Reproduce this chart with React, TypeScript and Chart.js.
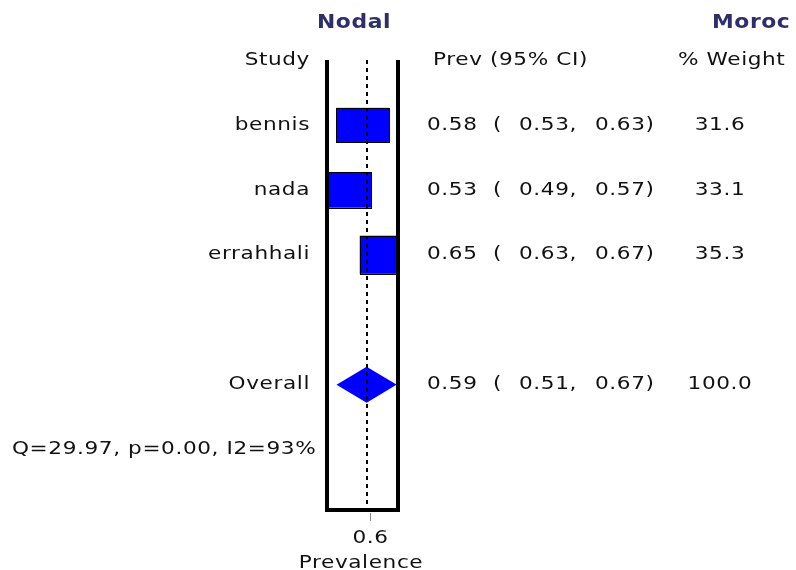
import React, { useEffect, useRef } from "react";
import { Chart, registerables } from "chart.js";

Chart.register(...registerables);

// ---------- data ----------
const studies = ["bennis", "nada", "errahhali"];
const studyRows = [1, 2, 3];
const prevalence = [0.58, 0.53, 0.65];
const ciLower = [0.53, 0.49, 0.63];
const ciUpper = [0.63, 0.57, 0.67];
const weights = [31.6, 33.1, 35.3];

const overallLabel = "Overall";
const overallRow = 5;
const overallEst = 0.59;
const overallLower = 0.51;
const overallUpper = 0.67;
const overallWeight = 100.0;

const heterogeneityText = "Q=29.97, p=0.00, I2=93%";
const heterogeneityRow = 6;

const xTicks = [0.6];
const xTitle = "Prevalence";
const titleLeft = "Nodal";
const titleRight = "Moroc";
const headerStudy = "Study";
const headerPrev = "Prev (95% CI)";
const headerWeight = "% Weight";

// ---------- layout / style ----------
const W = 796;
const H = 570;
const FONT = "'DejaVu Sans', sans-serif";
const TEXT_COLOR = "#111111";
const TITLE_COLOR = "#2e2e6a";
const BOX_COLOR = "#0000ff";
const STRETCH = 1.2;

const fmt = (v: number) => v.toFixed(2);

function drawText(ctx: CanvasRenderingContext2D, text: string, x: number, y: number, align: CanvasTextAlign, stretch = STRETCH) {
  ctx.save();
  ctx.translate(x, y);
  ctx.scale(stretch, 1);
  ctx.textAlign = align;
  ctx.fillText(text, 0, 0);
  ctx.restore();
}

const forestPlugin = {
  id: "forest",
  afterDatasetsDraw(chart: any) {
    const { ctx, chartArea } = chart;
    const xs = chart.scales.x;
    const ys = chart.scales.y;
    const { left, right, top, bottom } = chartArea;

    // ---- marks (clipped) ----
    ctx.save();
    ctx.beginPath();
    ctx.rect(left, top - 40, right - left, bottom - top + 40);
    ctx.clip();

    for (let i = 0; i < studies.length; i++) {
      const y = ys.getPixelForValue(studyRows[i]);
      ctx.strokeStyle = "#000";
      ctx.lineWidth = 1;
      ctx.beginPath();
      ctx.moveTo(xs.getPixelForValue(ciLower[i]), y);
      ctx.lineTo(xs.getPixelForValue(ciUpper[i]), y);
      ctx.stroke();

      const cx = xs.getPixelForValue(prevalence[i]);
      const bw = weights[i] * 1.67;
      const bh = weights[i] * 1.08;
      ctx.fillStyle = BOX_COLOR;
      ctx.fillRect(cx - bw / 2, y - bh / 2, bw, bh);
      ctx.strokeStyle = "#000";
      ctx.lineWidth = 1;
      ctx.strokeRect(Math.round(cx - bw / 2) + 0.5, Math.round(y - bh / 2) + 0.5, Math.round(bw), Math.round(bh));
    }

    // diamond
    const oy = ys.getPixelForValue(overallRow);
    const dh = 18;
    ctx.fillStyle = BOX_COLOR;
    ctx.beginPath();
    ctx.moveTo(xs.getPixelForValue(overallLower), oy);
    ctx.lineTo(xs.getPixelForValue(overallEst), oy - dh);
    ctx.lineTo(xs.getPixelForValue(overallUpper), oy);
    ctx.lineTo(xs.getPixelForValue(overallEst), oy + dh);
    ctx.closePath();
    ctx.fill();
    ctx.restore();

    // ---- dashed reference line at overall estimate ----
    const ox = Math.round(xs.getPixelForValue(overallEst));
    ctx.save();
    ctx.strokeStyle = "#000";
    ctx.lineWidth = 2;
    ctx.setLineDash([4, 4]);
    ctx.beginPath();
    ctx.moveTo(ox, top);
    ctx.lineTo(ox, bottom);
    ctx.stroke();
    ctx.restore();

    // ---- frame ----
    ctx.save();
    ctx.fillStyle = "#000";
    ctx.fillRect(left - 4, top, 4, bottom - top + 4);
    ctx.fillRect(right, top, 4, bottom - top + 4);
    ctx.fillRect(left - 4, bottom, right - left + 8, 4);
    ctx.restore();

    // ---- x ticks ----
    ctx.save();
    ctx.strokeStyle = "#888";
    ctx.lineWidth = 1;
    ctx.fillStyle = TEXT_COLOR;
    ctx.font = `18px ${FONT}`;
    (ctx as any).letterSpacing = "0.5px";
    ctx.textBaseline = "middle";
    for (const t of xTicks) {
      const tx = Math.round(xs.getPixelForValue(t)) + 0.5;
      ctx.beginPath();
      ctx.moveTo(tx, bottom + 5);
      ctx.lineTo(tx, bottom + 13);
      ctx.stroke();
      drawText(ctx, String(t), tx, bottom + 30, "center");
    }
    drawText(ctx, xTitle, 361, bottom + 55, "center");
    ctx.restore();

    // ---- texts ----
    ctx.save();
    ctx.fillStyle = TEXT_COLOR;
    ctx.font = `18px ${FONT}`;
    (ctx as any).letterSpacing = "0.5px";
    ctx.textBaseline = "middle";

    const labelRight = 310;
    const colEst = 427;
    const colParen = 493;
    const colLo = 519;
    const colHi = 595;
    const colWeightCenter = 720;

    const y0 = ys.getPixelForValue(0);
    drawText(ctx, headerStudy, labelRight, y0, "right");
    drawText(ctx, headerPrev, 433, y0, "left");
    drawText(ctx, headerWeight, 678, y0, "left");

    const row = (label: string, r: number, est: number, lo: number, hi: number, w: number) => {
      const y = ys.getPixelForValue(r);
      drawText(ctx, label, labelRight, y, "right");
      drawText(ctx, fmt(est), colEst, y, "left");
      drawText(ctx, "(", colParen, y, "left");
      drawText(ctx, fmt(lo) + ",", colLo, y, "left");
      drawText(ctx, fmt(hi) + ")", colHi, y, "left");
      drawText(ctx, w.toFixed(1), colWeightCenter, y, "center");
    };
    for (let i = 0; i < studies.length; i++) {
      row(studies[i], studyRows[i], prevalence[i], ciLower[i], ciUpper[i], weights[i]);
    }
    row(overallLabel, overallRow, overallEst, overallLower, overallUpper, overallWeight);

    drawText(ctx, heterogeneityText, 12, ys.getPixelForValue(heterogeneityRow), "left");

    // titles
    ctx.fillStyle = TITLE_COLOR;
    ctx.font = `bold 19px ${FONT}`;
    (ctx as any).letterSpacing = "0.5px";
    drawText(ctx, titleLeft, 354, 23, "center", 1.15);
    drawText(ctx, titleRight, 712, 23, "left", 1.15);
    ctx.restore();
  },
};

export default function App() {
  const canvasRef = useRef<HTMLCanvasElement | null>(null);

  useEffect(() => {
    const canvas = canvasRef.current;
    if (!canvas) return;
    const chart = new Chart(canvas, {
      type: "scatter",
      data: {
        datasets: [
          {
            label: "Prevalence",
            data: prevalence.map((p, i) => ({ x: p, y: studyRows[i] })),
            pointRadius: 0,
            showLine: false,
          },
        ],
      },
      options: {
        responsive: false,
        animation: false,
        events: [],
        layout: { padding: { left: 329, right: W - 396, top: 60, bottom: H - 508 } },
        plugins: { legend: { display: false }, tooltip: { enabled: false }, title: { display: false } },
        scales: {
          x: { type: "linear", min: 0.49, max: 0.668, display: false },
          y: { type: "linear", min: 0, max: 6.9, reverse: true, display: false },
        },
      },
      plugins: [forestPlugin],
    });
    return () => chart.destroy();
  }, []);

  return (
    <div style={{ position: "fixed", left: 0, top: 0, width: W, height: H, background: "#fff" }}>
      <canvas ref={canvasRef} width={W} height={H} style={{ display: "block", width: W, height: H }} />
    </div>
  );
}
